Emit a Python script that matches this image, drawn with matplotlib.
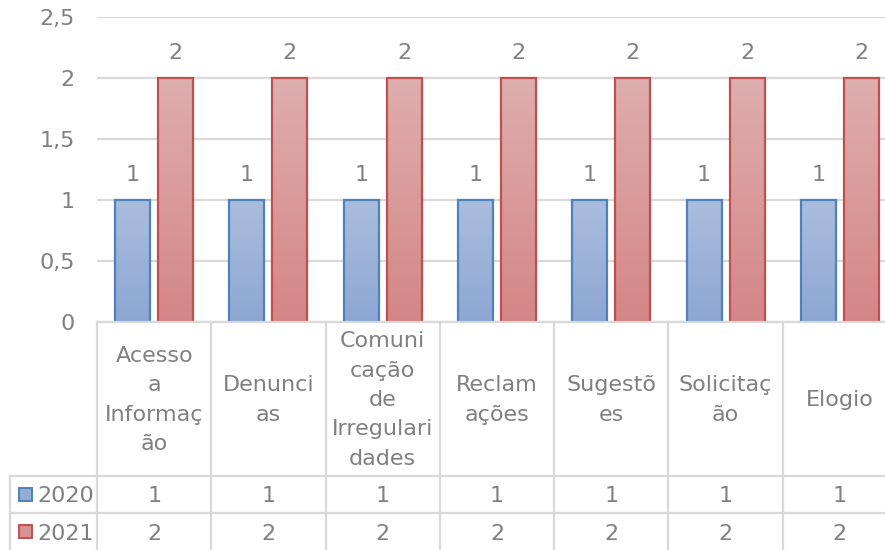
import numpy as np
import matplotlib.pyplot as plt
from matplotlib.patches import Rectangle

categories = ["Acesso a Informação", "Denuncias", "Comunicação de Irregularidades",
              "Reclamações", "Sugestões", "Solicitação", "Elogio"]
# wrapped like the Excel data table cells
cat_labels = ["Acesso\na\nInformaç\não", "Denunci\nas", "Comuni\ncação\nde\nIrregulari\ndades",
              "Reclam\nações", "Sugestõ\nes", "Solicitaç\não", "Elogio"]
series = ["2020", "2021"]
v2020 = [1, 1, 1, 1, 1, 1, 1]
v2021 = [2, 2, 2, 2, 2, 2, 2]
yticks = [0, 0.5, 1, 1.5, 2, 2.5]
ytick_labels = ["0", "0,5", "1", "1,5", "2", "2,5"]

txt = '#808080'
grid = '#d9d9d9'
fs = 16
plt.rcParams['font.family'] = ['DejaVu Sans']

W, H = 885, 550
fig = plt.figure(figsize=(W / 100, H / 100), dpi=100)

x_left, x_right = 97, 897
y_top, y_zero = 17, 322
colw = (x_right - x_left) / len(categories)

ax = fig.add_axes([x_left / W, 1 - y_zero / H, (x_right - x_left) / W, (y_zero - y_top) / H])

x = np.arange(len(categories))
bw = 0.306
off = 0.188

styles = [
    (v2020, -off, '#aabddd', '#8da7d3', '#4f81bd'),
    (v2021, off, '#dfaeae', '#d48686', '#c0504d'),
]

for vals, dx, ctop, cbot, edge in styles:
    bars = ax.bar(x + dx, vals, bw, facecolor='none', edgecolor=edge, linewidth=1.6, zorder=4)
    c1 = np.array(plt.matplotlib.colors.to_rgb(ctop))
    c2 = np.array(plt.matplotlib.colors.to_rgb(cbot))
    t = np.linspace(0, 1, 100)[:, None]
    grad = (c1 * (1 - t) + c2 * t)[:, None, :]
    for b, v in zip(bars, vals):
        im = ax.imshow(grad, extent=[b.get_x(), b.get_x() + b.get_width(), 0, b.get_height()],
                       aspect='auto', origin='upper', zorder=3)
        im.set_clip_path(b)
        ax.annotate(str(v), (b.get_x() + b.get_width() / 2, v), xytext=(0, 14),
                    textcoords='offset points', ha='center', va='baseline',
                    fontsize=fs, color=txt)

ax.set_xlim(-0.5, len(categories) - 0.5)
ax.set_ylim(0, 2.5)
ax.set_yticks(yticks)
ax.set_yticklabels(ytick_labels, fontsize=fs, color=txt)
ax.set_xticks([])
ax.tick_params(axis='y', length=0, pad=16)
ax.yaxis.grid(True, color=grid, linewidth=1.6)
ax.set_axisbelow(True)
for s in ax.spines.values():
    s.set_visible(False)

# data table below the plot, in pixel coordinates
tb = fig.add_axes([0, 0, 1, 1], facecolor='none')
tb.set_xlim(0, W)
tb.set_ylim(H, 0)
tb.axis('off')

row1, row2, row3 = 476, 513, 550
lw = 1.6
tb.plot([x_left, W], [y_zero, y_zero], color=grid, lw=lw)
for yy in [row1, row2]:
    tb.plot([10, W], [yy, yy], color=grid, lw=lw)
tb.plot([10, 10], [row1, row3], color=grid, lw=lw)
for k in range(len(categories) + 1):
    xx = x_left + k * colw
    tb.plot([xx, xx], [y_zero, row3], color=grid, lw=lw)

for k, lab in enumerate(cat_labels):
    cx = x_left + (k + 0.5) * colw
    tb.text(cx, (y_zero + row1) / 2 + 1, lab, ha='center', va='center', fontsize=fs,
            color=txt, linespacing=1.58)

rows = [(v2020, (row1 + row2) / 2, '#94acd5', '#4f81bd'),
        (v2021, (row2 + row3) / 2, '#d99292', '#c0504d')]
for name, (vals, cy, fc, ec) in zip(series, rows):
    tb.add_patch(Rectangle((18.5, cy - 6.5), 13, 13, facecolor=fc, edgecolor=ec, lw=1.4))
    tb.text(37, cy, name, ha='left', va='center_baseline', fontsize=fs, color=txt)
    for k, v in enumerate(vals):
        cx = x_left + (k + 0.5) * colw
        tb.text(cx, cy, str(v), ha='center', va='center_baseline', fontsize=fs, color=txt)

fig.savefig('out.png', dpi=100)
